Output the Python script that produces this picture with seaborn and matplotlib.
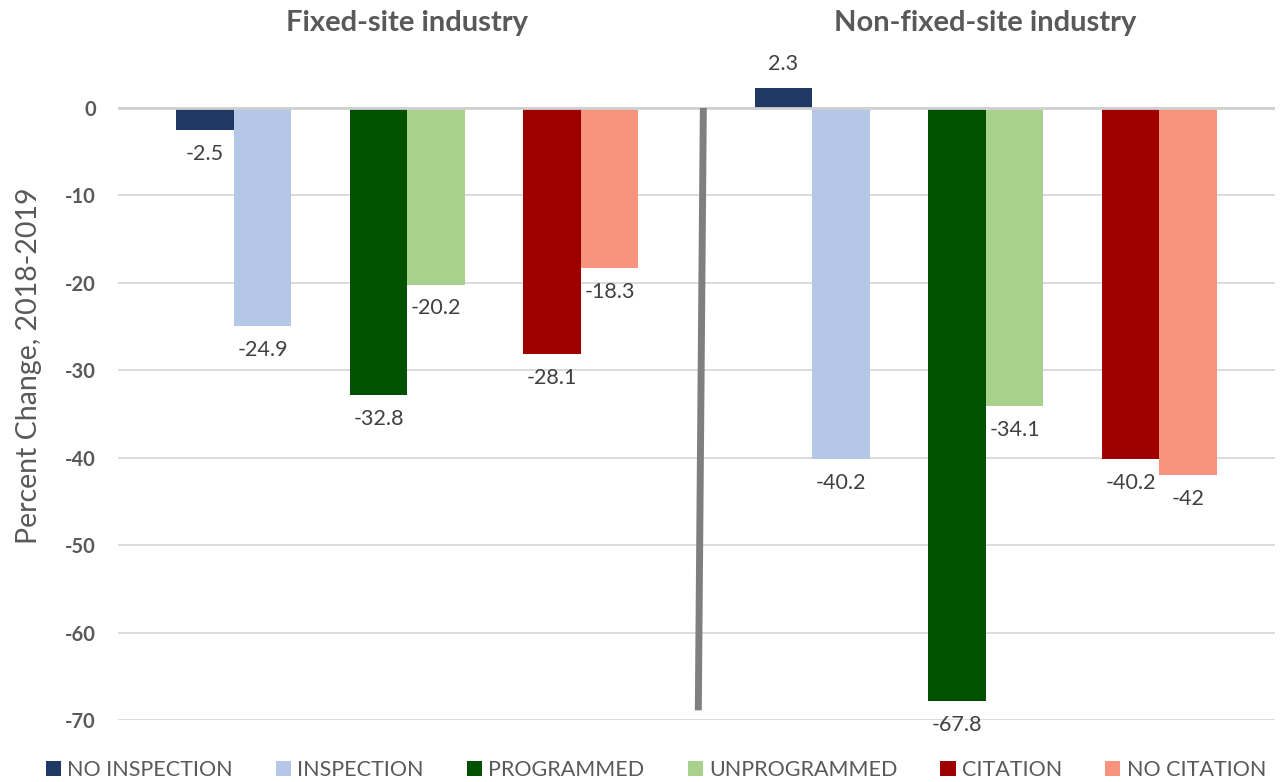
import numpy as np
import pandas as pd
import seaborn as sns
import matplotlib.pyplot as plt
from matplotlib.transforms import blended_transform_factory

# Data
series = ["NO INSPECTION", "INSPECTION", "PROGRAMMED", "UNPROGRAMMED", "CITATION", "NO CITATION"]
industries = ["Fixed-site industry", "Non-fixed-site industry"]
fixed_site = [-2.5, -24.9, -32.8, -20.2, -28.1, -18.3]
non_fixed_site = [2.3, -40.2, -67.8, -34.1, -40.2, -42]
colors = ["#203864", "#b4c7e7", "#005200", "#a9d18e", "#9e0000", "#f8937e"]

# Layout: pairs of bars, with a wider gap between the two industries
pair_centers = [0, 1, 2, 3.333, 4.333, 5.333]
half = 0.1657

xs = []
for pc in pair_centers:
    xs += [pc - half, pc + half]

df = pd.DataFrame({
    "x": xs,
    "value": fixed_site + non_fixed_site,
    "series": series + series,
})

sns.set_style("white")
plt.rcParams['font.family'] = ['Lato', 'DejaVu Sans']
gray = "#595959"

fig = plt.figure(figsize=(12.81, 7.82), dpi=100)
ax = fig.add_axes([0.0921, 0.0793, 0.9032, 0.8162])

sns.barplot(data=df, x="x", y="value", hue="series", hue_order=series,
            palette=colors, native_scale=True, dodge=False, width=1.0,
            saturation=1, linewidth=0, ax=ax)

ax.set_xlim(-0.667, 6.0)
ax.set_ylim(-70, 3)
ax.set_xticks([])
ax.set_xlabel("")
ax.set_yticks(range(-70, 1, 10))
ax.set_yticklabels([str(v) for v in range(-70, 1, 10)], fontsize=14.5,
                   fontweight="bold", color=gray)
ax.tick_params(axis="y", length=0, pad=16)
ax.grid(axis="y", color="#d9d9d9", lw=1.3)
ax.set_axisbelow(True)
ax.axhline(0, color="#d0d0d0", lw=2, zorder=1)
for s in ax.spines.values():
    s.set_visible(False)

ax.set_ylabel("Percent Change, 2018-2019", fontsize=20.5, color=gray)
ax.yaxis.set_label_coords(-0.066, 0.555)

# Value labels
for cont in ax.containers:
    ax.bar_label(cont, fmt="%g", padding=10, fontsize=15.5, color="#404040")

# Divider between the two industries
ax.plot([2.706, 2.677], [0, -68.9], color="#7f7f7f", lw=5, solid_capstyle="butt",
        zorder=3)

# Panel titles
tr = blended_transform_factory(ax.transData, fig.transFigure)
ax.text(1.0, 0.97, industries[0], transform=tr, ha="center", va="center",
        fontsize=21, fontweight="bold", color=gray)
ax.text(4.333, 0.97, industries[1], transform=tr, ha="center", va="center",
        fontsize=21, fontweight="bold", color=gray)

sns.move_legend(ax, "center", bbox_to_anchor=(0.512, 0.0153),
                bbox_transform=fig.transFigure, ncol=6, frameon=False,
                title=None, fontsize=15.5, handlelength=0.7, handleheight=0.7,
                handletextpad=0.3, columnspacing=2.0, borderaxespad=0)
for t in ax.get_legend().get_texts():
    t.set_color(gray)

fig.savefig("out.png", dpi=100)
